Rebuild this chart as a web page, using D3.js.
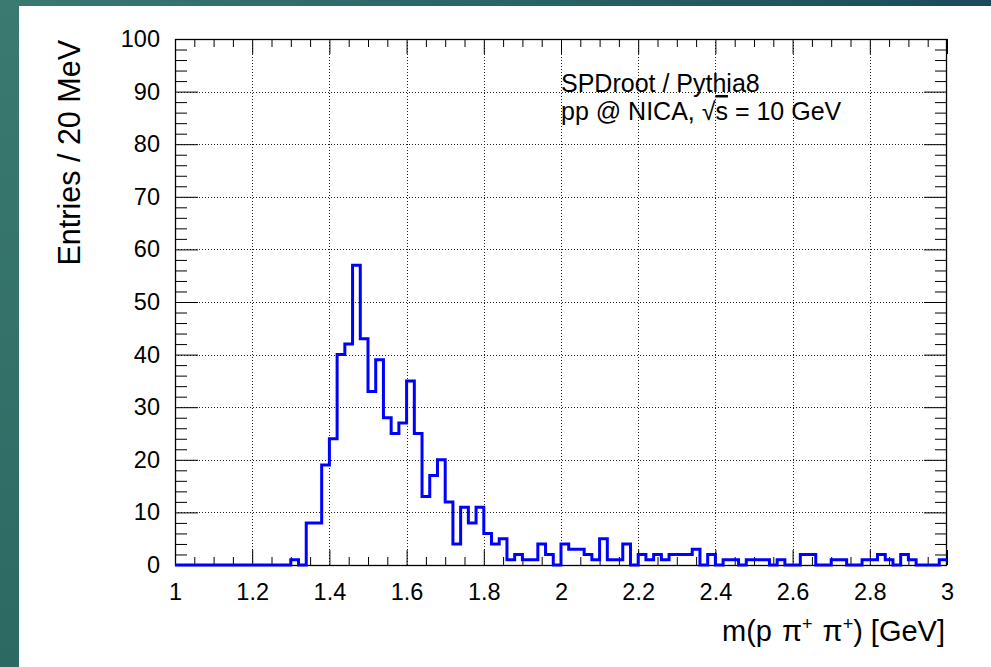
<!DOCTYPE html>
<html>
<head>
<meta charset="utf-8">
<script src="https://cdn.jsdelivr.net/npm/d3@7"></script>
<style>
  html, body { margin: 0; padding: 0; background: #fff; }
  svg { display: block; }
  text { font-family: "Liberation Sans", Arial, Helvetica, sans-serif; fill: #000; }
</style>
</head>
<body>
<svg id="chart" width="991" height="667"></svg>
<script>
// Histogram binning: 100 bins of 20 MeV from 1 to 3 GeV
const xMin = 1.0;
const xMax = 3.0;
const binWidth = 0.02;

// Entries per bin
const counts = [
  0, 0, 0, 0, 0, 0, 0, 0, 0, 0,
  0, 0, 0, 0, 0, 1, 0, 8, 8, 19,
  24, 40, 42, 57, 43, 33, 39, 28, 25, 27,
  35, 25, 13, 17, 20, 12, 4, 11, 8, 11,
  6, 4, 5, 1, 2, 1, 1, 4, 2, 0,
  4, 3, 3, 2, 1, 5, 1, 1, 4, 0,
  2, 1, 2, 1, 2, 2, 2, 3, 0, 2,
  0, 1, 1, 0, 1, 1, 1, 0, 1, 0,
  0, 2, 2, 0, 0, 1, 1, 0, 0, 1,
  1, 2, 1, 0, 2, 1, 0, 0, 0, 1
];

// Axis ticks and labels
const xTickValues = [1, 1.2, 1.4, 1.6, 1.8, 2, 2.2, 2.4, 2.6, 2.8, 3];
const xTickLabels = ["1", "1.2", "1.4", "1.6", "1.8", "2", "2.2", "2.4", "2.6", "2.8", "3"];
const yTickValues = [0, 10, 20, 30, 40, 50, 60, 70, 80, 90, 100];
const yTickLabels = ["0", "10", "20", "30", "40", "50", "60", "70", "80", "90", "100"];

const yTitle = "Entries / 20 MeV";
const infoLines = ["SPDroot / Pythia8", "pp @ NICA, "];

const svg = d3.select("#chart");
const W = 991, H = 667;

// Slide background
const defs = svg.append("defs");
const grad = defs.append("linearGradient").attr("id", "bg")
  .attr("x1", "0").attr("y1", "0").attr("x2", "1").attr("y2", "0");
grad.append("stop").attr("offset", "0").attr("stop-color", "#3a7a70");
grad.append("stop").attr("offset", "0.5").attr("stop-color", "#2a6466");
grad.append("stop").attr("offset", "1").attr("stop-color", "#1b4a5a");
const gradV = defs.append("linearGradient").attr("id", "bgv")
  .attr("x1", "0").attr("y1", "0").attr("x2", "0").attr("y2", "1");
gradV.append("stop").attr("offset", "0").attr("stop-color", "#3a7a70");
gradV.append("stop").attr("offset", "1").attr("stop-color", "#2d6963");

svg.append("rect").attr("width", W).attr("height", H).attr("fill", "url(#bg)");
svg.append("rect").attr("x", 0).attr("y", 0).attr("width", 19).attr("height", H).attr("fill", "url(#bgv)");
svg.append("rect").attr("x", 19).attr("y", 6).attr("width", W - 19).attr("height", H - 6).attr("fill", "#fff");

// Frame geometry
const frame = { left: 175, right: 947, top: 39, bottom: 565 };
const x = d3.scaleLinear().domain([xMin, xMax]).range([frame.left, frame.right]);
const y = d3.scaleLinear().domain([0, 100]).range([frame.bottom, frame.top]);

// Dotted grid at major divisions
const grid = svg.append("g").attr("stroke", "#222").attr("stroke-width", 1)
  .attr("stroke-dasharray", "1,2").attr("fill", "none");
grid.selectAll("line.gx").data(xTickValues.slice(1, -1)).join("line")
  .attr("x1", d => Math.round(x(d)) + 0.5).attr("x2", d => Math.round(x(d)) + 0.5)
  .attr("y1", frame.top).attr("y2", frame.bottom);
grid.selectAll("line.gy").data(yTickValues.slice(1, -1)).join("line")
  .attr("y1", d => Math.round(y(d)) + 0.5).attr("y2", d => Math.round(y(d)) + 0.5)
  .attr("x1", frame.left).attr("x2", frame.right);

// Minor tick positions (4 subdivisions in x, 5 in y)
const xMinor = d3.range(0, 41).map(i => xMin + i * 0.05).filter(v => Math.abs(v * 5 - Math.round(v * 5)) > 1e-6);
const yMinor = d3.range(0, 51).map(i => i * 2).filter(v => v % 10 !== 0);

function styleAxis(g) {
  g.select(".domain").remove();
  g.selectAll(".tick line").attr("stroke", "#000").attr("stroke-width", 1);
  g.selectAll(".tick text").attr("font-size", 23.5).attr("fill", "#000");
}

// Bottom axis
svg.append("g").attr("transform", `translate(0,${frame.bottom})`)
  .call(d3.axisBottom(x).tickValues(xTickValues).tickSize(-15).tickPadding(18)
    .tickFormat((d, i) => xTickLabels[i]))
  .call(styleAxis);
svg.append("g").attr("transform", `translate(0,${frame.bottom})`)
  .call(d3.axisBottom(x).tickValues(xMinor).tickSize(-8).tickFormat(""))
  .call(styleAxis);
// Top axis (ticks only)
svg.append("g").attr("transform", `translate(0,${frame.top})`)
  .call(d3.axisTop(x).tickValues(xTickValues).tickSize(-15).tickFormat(""))
  .call(styleAxis);
svg.append("g").attr("transform", `translate(0,${frame.top})`)
  .call(d3.axisTop(x).tickValues(xMinor).tickSize(-8).tickFormat(""))
  .call(styleAxis);

// Left axis
svg.append("g").attr("transform", `translate(${frame.left},0)`)
  .call(d3.axisLeft(y).tickValues(yTickValues).tickSize(-23).tickPadding(15)
    .tickFormat((d, i) => yTickLabels[i]))
  .call(styleAxis);
svg.append("g").attr("transform", `translate(${frame.left},0)`)
  .call(d3.axisLeft(y).tickValues(yMinor).tickSize(-12).tickFormat(""))
  .call(styleAxis);
// Right axis (ticks only)
svg.append("g").attr("transform", `translate(${frame.right},0)`)
  .call(d3.axisRight(y).tickValues(yTickValues).tickSize(-23).tickFormat(""))
  .call(styleAxis);
svg.append("g").attr("transform", `translate(${frame.right},0)`)
  .call(d3.axisRight(y).tickValues(yMinor).tickSize(-12).tickFormat(""))
  .call(styleAxis);

// Frame
svg.append("rect")
  .attr("x", frame.left + 0.5).attr("y", frame.top + 0.5)
  .attr("width", frame.right - frame.left - 1).attr("height", frame.bottom - frame.top)
  .attr("fill", "none").attr("stroke", "#000").attr("stroke-width", 1.3);

// Histogram outline
const pts = counts.map((c, i) => [xMin + i * binWidth, c]);
pts.push([xMax, counts[counts.length - 1]]);
const line = d3.line().x(d => x(d[0])).y(d => y(d[1])).curve(d3.curveStepAfter);
svg.append("path").attr("d", line(pts))
  .attr("fill", "none").attr("stroke", "#0000ff").attr("stroke-width", 3)
  .attr("stroke-linejoin", "miter");

// Axis titles
svg.append("text")
  .attr("transform", `translate(80,${frame.top + 1}) rotate(-90)`)
  .attr("text-anchor", "end").attr("font-size", 30.5)
  .text(yTitle);

const xt = svg.append("text").attr("x", 945).attr("y", 641)
  .attr("text-anchor", "end").attr("font-size", 29);
xt.append("tspan").text("m(p ");
xt.append("tspan").attr("dx", 2).text("\u03c0");
xt.append("tspan").attr("font-size", 18).attr("dy", -11).text("+");
xt.append("tspan").attr("dx", 2).attr("dy", 11).text(" \u03c0");
xt.append("tspan").attr("font-size", 18).attr("dy", -11).text("+");
xt.append("tspan").attr("dy", 11).text(") [GeV]");

// Info text
const info = svg.append("g").attr("font-size", 25);
info.append("text").attr("x", 561).attr("y", 92).text(infoLines[0]);
const l2 = info.append("text").attr("x", 561).attr("y", 120);
l2.append("tspan").text(infoLines[1]);
l2.append("tspan").text("\u221a");
l2.append("tspan").attr("text-decoration", "overline").style("text-decoration", "overline").text("s");
l2.append("tspan").text(" = 10 GeV");
</script>
</body>
</html>
